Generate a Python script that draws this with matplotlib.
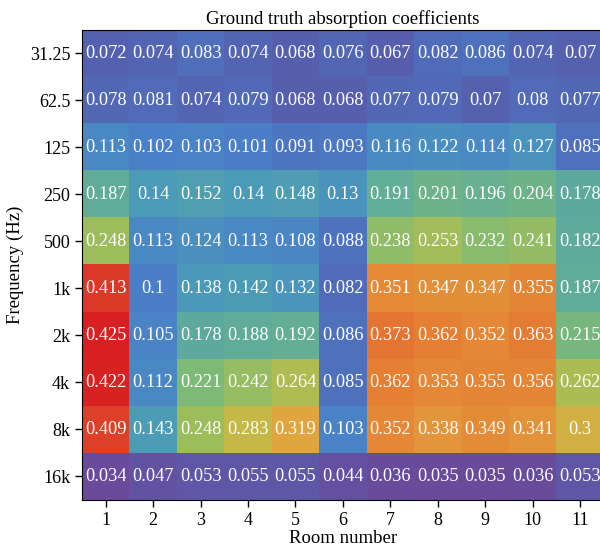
import matplotlib
matplotlib.use("Agg")
import matplotlib.pyplot as plt
import numpy as np
from matplotlib.colors import LinearSegmentedColormap

plt.rcParams['font.family'] = ['Liberation Serif', 'DejaVu Serif']

frequencies = ["31.25", "62.5", "125", "250", "500", "1k", "2k", "4k", "8k", "16k"]
rooms = ["1", "2", "3", "4", "5", "6", "7", "8", "9", "10", "11"]

f_31 = [0.072, 0.074, 0.083, 0.074, 0.068, 0.076, 0.067, 0.082, 0.086, 0.074, 0.07]
f_62 = [0.078, 0.081, 0.074, 0.079, 0.068, 0.068, 0.077, 0.079, 0.07, 0.08, 0.077]
f_125 = [0.113, 0.102, 0.103, 0.101, 0.091, 0.093, 0.116, 0.122, 0.114, 0.127, 0.085]
f_250 = [0.187, 0.14, 0.152, 0.14, 0.148, 0.13, 0.191, 0.201, 0.196, 0.204, 0.178]
f_500 = [0.248, 0.113, 0.124, 0.113, 0.108, 0.088, 0.238, 0.253, 0.232, 0.241, 0.182]
f_1k = [0.413, 0.1, 0.138, 0.142, 0.132, 0.082, 0.351, 0.347, 0.347, 0.355, 0.187]
f_2k = [0.425, 0.105, 0.178, 0.188, 0.192, 0.086, 0.373, 0.362, 0.352, 0.363, 0.215]
f_4k = [0.422, 0.112, 0.221, 0.242, 0.264, 0.085, 0.362, 0.353, 0.355, 0.356, 0.262]
f_8k = [0.409, 0.143, 0.248, 0.283, 0.319, 0.103, 0.352, 0.338, 0.349, 0.341, 0.3]
f_16k = [0.034, 0.047, 0.053, 0.055, 0.055, 0.044, 0.036, 0.035, 0.035, 0.036, 0.053]

A = np.array([f_31, f_62, f_125, f_250, f_500, f_1k, f_2k, f_4k, f_8k, f_16k])

# colour stops (value, colour)
stops = [(0.034, "#6a4b9b"), (0.07, "#5561b0"), (0.10, "#4a80c8"),
         (0.14, "#4b9bb8"), (0.19, "#63ae97"), (0.22, "#7cba78"),
         (0.25, "#9fbe5c"), (0.283, "#c4ba48"), (0.32, "#e0a53e"),
         (0.35, "#e48c38"), (0.373, "#e47432"), (0.413, "#dc3c28"),
         (0.425, "#d81f22")]
vmin, vmax = A.min(), A.max()
cmap = LinearSegmentedColormap.from_list(
    "gt", [((v - vmin) / (vmax - vmin), c) for v, c in stops])

fig = plt.figure(figsize=(6, 5.51), dpi=100)
# the right edge of the axes runs a little past the figure, as in the reference
ax = fig.add_axes([0.1367, 0.0926, 0.8696, 0.853])
ax.imshow(A, cmap=cmap, vmin=vmin, vmax=vmax, aspect='auto')

for i in range(A.shape[0]):
    for j in range(A.shape[1]):
        ax.text(j, i, f"{A[i, j]:g}", ha='center', va='center',
                color='white', fontsize=13.2)

ax.set_xticks(range(len(rooms)))
ax.set_xticklabels(rooms, fontsize=13)
ax.set_yticks(range(len(frequencies)))
ax.set_yticklabels(frequencies, fontsize=13)
ax.tick_params(length=5, width=1)
ax.set_xlabel("Room number", fontsize=13.5, labelpad=1)
ax.set_ylabel("Frequency (Hz)", fontsize=13.5)
ax.set_title("Ground truth absorption coefficients", fontsize=13.5, pad=4)

fig.savefig("out.png", dpi=100)
